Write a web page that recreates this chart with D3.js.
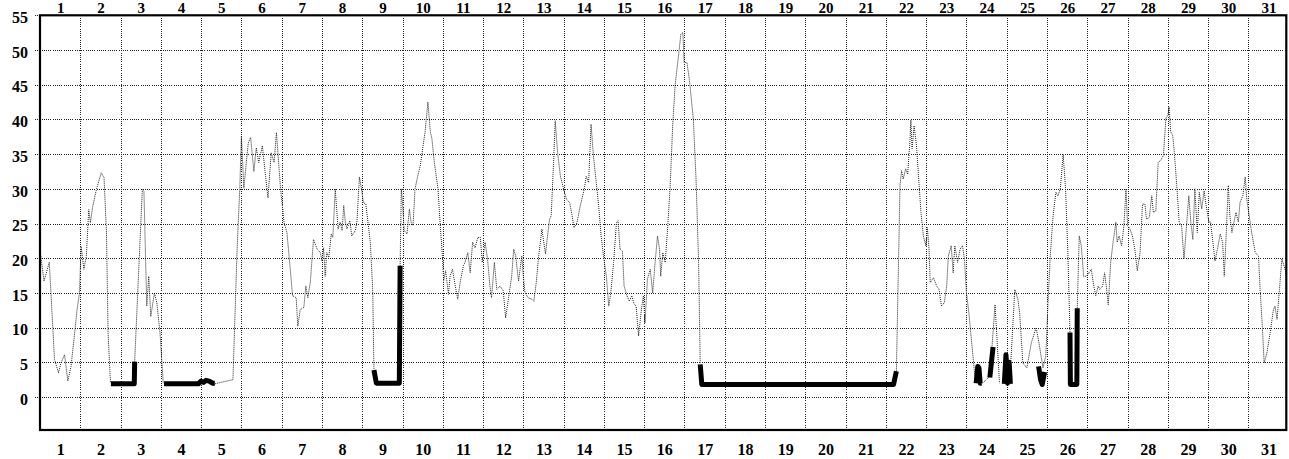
<!DOCTYPE html>
<html>
<head>
<meta charset="utf-8">
<script src="https://cdn.jsdelivr.net/npm/d3@7"></script>
<style>
  html, body { margin: 0; padding: 0; background: #fff; }
  svg { display: block; }
</style>
</head>
<body>
<div id="chart"></div>
<script>
// day-of-month labels and value ticks
const days = [1, 2, 3, 4, 5, 6, 7, 8, 9, 10, 11, 12, 13, 14, 15, 16,
  17, 18, 19, 20, 21, 22, 23, 24, 25, 26, 27, 28, 29, 30, 31];
const yTicks = [0, 5, 10, 15, 20, 25, 30, 35, 40, 45, 50, 55];

// thin dotted trace: [days since the 1st 00:00, value], null = gap
const thinTrace = [
  [0, 21.2], [0.1, 16.7], [0.23, 19.4], [0.27, 15.2], [0.36, 5.4], [0.46, 3.5], [0.52, 4.9],
  [0.61, 6.1], [0.69, 2.3], [0.77, 4.4], [0.86, 9.2], [0.92, 12.6], [0.98, 15], [1.02, 21.7],
  [1.09, 18.4], [1.15, 20.3], [1.21, 27], [1.25, 25.1], [1.31, 27.5], [1.4, 29.9], [1.52, 32.3],
  [1.59, 31.6], [1.65, 23.7], [1.69, 9.2], [1.75, 2],
  [1.8, null],
  [2.35, 5.1], [2.54, 29.9], [2.58, 29.7], [2.65, 13.1], [2.7, 17.4], [2.75, 11.6], [2.84, 15],
  [2.9, 13.6], [2.98, 9.2], [3.06, 2],
  [3.5, null],
  [4.34, 1.9], [4.48, 2.1], [4.79, 2.5], [4.89, 20.8], [4.96, 30.1], [5.0, 37.6], [5.06, 30.1],
  [5.17, 36.6], [5.23, 37.4], [5.31, 32.5], [5.37, 35.9], [5.43, 33.8], [5.52, 36.2], [5.6, 31.8],
  [5.66, 28.7], [5.74, 35.2], [5.81, 33.8], [5.87, 38.1], [5.97, 30.1], [6.06, 25.1], [6.13, 23.7],
  [6.19, 19.9], [6.27, 14.6], [6.36, 14.3], [6.4, 10.2], [6.46, 12.6], [6.55, 12.9], [6.6, 16],
  [6.65, 14.3], [6.71, 16.5], [6.79, 22.7], [6.88, 21.3], [6.96, 20.8], [7.0, 19.6], [7.04, 21.5],
  [7.08, 17.4], [7.12, 20.8], [7.17, 20.1], [7.23, 23.5], [7.27, 23], [7.33, 30], [7.4, 24.2],
  [7.45, 25.2], [7.5, 24], [7.54, 27.6], [7.58, 25.2], [7.62, 24.2], [7.69, 25.4], [7.74, 23.2],
  [7.83, 24], [7.87, 25.4], [7.93, 31.7], [7.98, 30], [8.03, 28], [8.09, 27.8], [8.2, 22.3],
  [8.26, 15.5], [8.29, 4],
  [8.6, null],
  [8.94, 18.9], [8.97, 30], [9.0, 28], [9.04, 24], [9.11, 23.5], [9.17, 27.1], [9.21, 25.2],
  [9.26, 24.7], [9.31, 30], [9.38, 31.9], [9.44, 33.3], [9.5, 35.8], [9.56, 38.2], [9.63, 42.5],
  [9.69, 38.2], [9.73, 37.2], [9.79, 33.8], [9.88, 30], [9.93, 25.2], [9.99, 20.3], [10.02, 16.7],
  [10.07, 18.2], [10.14, 14.8], [10.18, 17.4], [10.24, 18.4], [10.31, 16], [10.37, 14.1],
  [10.43, 16.5], [10.51, 18.9], [10.55, 19.4], [10.62, 20.8], [10.68, 17.9], [10.74, 22.3],
  [10.8, 21.5], [10.87, 23], [10.93, 23], [10.98, 19.4], [11.05, 22.3], [11.11, 19.9], [11.17, 16],
  [11.21, 14.3], [11.28, 19.4], [11.34, 15.5], [11.42, 16], [11.5, 15.3], [11.56, 11.4],
  [11.64, 14.6], [11.71, 17.4], [11.76, 21.3], [11.81, 20.3], [11.88, 16.7], [11.96, 20.3],
  [12.0, 17.4], [12.04, 15], [12.12, 14.3], [12.21, 14.1], [12.26, 13.8], [12.32, 16.5],
  [12.38, 20.3], [12.46, 24.2], [12.55, 20.6], [12.6, 23.2], [12.65, 25.6], [12.69, 26.1],
  [12.75, 33.8], [12.79, 39.8], [12.85, 35.2], [12.92, 31.8], [12.96, 30.9], [13.0, 29.9],
  [13.07, 28.5], [13.15, 28], [13.21, 26.1], [13.26, 24.4], [13.33, 25.1], [13.41, 27.5],
  [13.51, 29.9], [13.56, 31.8], [13.62, 30.9], [13.68, 39.3], [13.74, 34.7], [13.81, 30.9],
  [13.87, 27.5], [13.93, 23.2], [13.99, 20.3], [14.06, 17.4], [14.12, 13.1], [14.17, 15],
  [14.24, 19.4], [14.31, 25.1], [14.35, 25.4], [14.4, 21.3], [14.46, 21], [14.5, 16],
  [14.57, 14.6], [14.63, 13.8], [14.69, 14.6], [14.75, 13.4], [14.8, 13.1], [14.86, 8.8],
  [14.93, 12.6], [14.98, 14.6], [15.02, 10.7], [15.08, 17], [15.15, 18.4], [15.21, 15],
  [15.27, 19.4], [15.33, 23.2], [15.38, 21.3], [15.41, 17.4], [15.46, 20.8], [15.52, 19.4],
  [15.58, 24.2], [15.64, 29.9], [15.71, 39.5], [15.77, 45.1], [15.85, 49.1], [15.91, 52.3],
  [15.96, 52.5], [15.99, 48.2], [16.06, 48.2], [16.12, 45.8], [16.22, 40], [16.29, 30.9],
  [16.35, 19.4], [16.39, 4.9],
  [18.0, null],
  [21.26, 3.7], [21.35, 30.5], [21.39, 32.6], [21.43, 31.4], [21.49, 32.9], [21.54, 32.1],
  [21.6, 37.2], [21.62, 39.9], [21.65, 35.8], [21.7, 39.1], [21.76, 36.2], [21.82, 30.9],
  [21.87, 26.6], [21.93, 23.2], [21.99, 21.8], [22.03, 24.4], [22.07, 21.3], [22.1, 16.5],
  [22.18, 17.2], [22.26, 16], [22.32, 15.5], [22.38, 13.1], [22.45, 13.6], [22.51, 16],
  [22.55, 20.3], [22.62, 21.8], [22.67, 17.9], [22.71, 21.8], [22.78, 19.4], [22.84, 21.3],
  [22.9, 21.8], [22.95, 19.9], [23.0, 15], [23.06, 12.1], [23.13, 7.8], [23.22, 2.3],
  [23.3, null],
  [23.4, 2], [23.58, 3], [23.71, 13.3], [23.82, 2],
  [23.95, null],
  [24.1, 4.9], [24.2, 15.5], [24.28, 14], [24.32, 12.1], [24.4, 4.9], [24.5, 4.2], [24.61, 7.8],
  [24.73, 10], [24.8, 7.8], [24.9, 4.2], [24.97, 5.9], [25.02, 13.1], [25.08, 20.3],
  [25.15, 26.1], [25.22, 29.5], [25.27, 29], [25.33, 30], [25.4, 35], [25.46, 30], [25.52, 20.3],
  [25.57, 9.3],
  [25.65, null],
  [25.75, 12.8], [25.8, 23.2], [25.85, 21.8], [25.91, 17.4], [25.98, 17.4], [26.04, 17.9],
  [26.1, 18.4], [26.16, 16], [26.21, 14.6], [26.27, 16], [26.31, 15.5], [26.38, 16], [26.43, 17.9],
  [26.49, 15], [26.52, 13.3], [26.58, 19.4], [26.64, 22.3], [26.71, 25.2], [26.74, 22.3],
  [26.79, 23.2], [26.85, 21.8], [26.91, 24.7], [26.96, 30], [27.0, 24.7], [27.06, 24.2],
  [27.12, 23.2], [27.18, 21.3], [27.24, 18.2], [27.31, 20.8], [27.37, 27.8], [27.43, 27.8],
  [27.47, 25.6], [27.54, 25.9], [27.6, 29], [27.64, 26.6], [27.7, 26.8], [27.76, 33.8],
  [27.82, 34.1], [27.89, 34.8], [27.95, 40.1], [28.0, 40.6], [28.03, 41.8], [28.07, 38.2],
  [28.12, 37.7], [28.15, 36], [28.22, 30.5], [28.28, 25.2], [28.34, 24.7], [28.4, 19.9],
  [28.47, 25.2], [28.52, 29], [28.57, 25.2], [28.62, 22.7], [28.67, 30], [28.73, 23.7],
  [28.78, 29.5], [28.84, 27.1], [28.9, 29.7], [28.95, 27.6], [29.02, 25.2], [29.06, 25.2],
  [29.11, 22.7], [29.17, 19.6], [29.23, 21.3], [29.3, 23.5], [29.36, 22.3], [29.4, 17.4],
  [29.45, 23.7], [29.5, 30.5], [29.54, 26.1], [29.59, 23.7], [29.64, 25.2], [29.69, 26.6],
  [29.75, 25.2], [29.79, 28], [29.86, 29], [29.92, 31.7], [29.96, 28.5], [30.02, 26.1],
  [30.08, 23.7], [30.17, 20.8], [30.25, 20.3], [30.29, 15.5], [30.34, 10.7], [30.39, 4.9],
  [30.46, 6.4], [30.54, 9.3], [30.62, 12.6], [30.66, 13.1], [30.71, 11.2], [30.77, 15.5],
  [30.83, 19.9], [30.92, 18.2], [30.95, 17]
];

// thick solid trace (the low readings), null = gap
const thickTrace = [
  [1.76, 1.9], [2.34, 1.9], [2.35, 5.1],
  [2.8, null],
  [3.08, 1.9], [3.93, 1.9], [4.0, 2.3], [4.06, 2.1], [4.12, 2.4], [4.2, 2.3], [4.28, 2.0], [4.34, 2.0],
  [6.0, null],
  [8.29, 3.9], [8.35, 2.0], [8.92, 2.0], [8.94, 18.9],
  [12.0, null],
  [16.39, 4.7], [16.43, 1.8], [21.19, 1.8], [21.26, 3.7],
  [22.0, null],
  [23.24, 2.0], [23.28, 4.4], [23.31, 4.2], [23.34, 2.0], [23.38, 2.0],
  [23.5, null],
  [23.58, 2.8], [23.66, 7.2],
  [23.8, null],
  [23.94, 1.9], [23.98, 6.1], [24.02, 2.0], [24.06, 5.0], [24.09, 1.9],
  [24.5, null],
  [24.79, 4.4], [24.84, 2.5], [24.88, 1.8], [24.94, 3.6],
  [25.2, null],
  [25.57, 9.3], [25.58, 1.8], [25.74, 1.8], [25.75, 12.8]
];

function drawChart() {
  const width = 1289;
  const height = 459;
  const plotLeft = 40;
  const plotRight = 1286.3;
  const plotTop = 15.3;
  const plotBottom = 430;

  const x = d3.scaleLinear().domain([0, 30.94]).range([plotLeft, plotRight]);
  const y = d3.scaleLinear().domain([-4.75, 55]).range([plotBottom, plotTop]);

  const svg = d3.select("#chart")
    .append("svg")
    .attr("width", width)
    .attr("height", height)
    .attr("viewBox", [0, 0, width, height]);

  svg.append("rect")
    .attr("width", width)
    .attr("height", height)
    .attr("fill", "#fff");

  // dotted grid
  const grid = svg.append("g")
    .attr("stroke", "#222")
    .attr("stroke-width", 1)
    .attr("stroke-dasharray", "1,1.2")
    .attr("shape-rendering", "crispEdges");

  grid.selectAll("line.h")
    .data(yTicks)
    .join("line")
    .attr("class", "h")
    .attr("x1", plotLeft - 5)
    .attr("x2", plotRight)
    .attr("y1", function(d) { return Math.round(y(d)) + 0.5; })
    .attr("y2", function(d) { return Math.round(y(d)) + 0.5; });

  grid.selectAll("line.v")
    .data(days.slice(1))
    .join("line")
    .attr("class", "v")
    .attr("x1", function(d) { return Math.round(x(d - 1)) + 0.5; })
    .attr("x2", function(d) { return Math.round(x(d - 1)) + 0.5; })
    .attr("y1", plotTop)
    .attr("y2", plotBottom);

  const line = d3.line()
    .defined(function(d) { return d[1] !== null; })
    .x(function(d) { return x(d[0]); })
    .y(function(d) { return y(d[1]); });

  svg.append("path")
    .datum(thinTrace)
    .attr("fill", "none")
    .attr("stroke", "#222")
    .attr("stroke-width", 1)
    .attr("stroke-dasharray", "1,1")
    .attr("d", line);

  svg.append("path")
    .datum(thickTrace)
    .attr("fill", "none")
    .attr("stroke", "#000")
    .attr("stroke-width", 5)
    .attr("stroke-linejoin", "round")
    .attr("d", line);

  // frame
  svg.append("rect")
    .attr("x", plotLeft)
    .attr("y", plotTop)
    .attr("width", plotRight - plotLeft)
    .attr("height", plotBottom - plotTop)
    .attr("fill", "none")
    .attr("stroke", "#000")
    .attr("stroke-width", 2.2);

  const dayCenters = days.map(function(d) { return d - 0.5; });
  const dayFormat = function(v) { return Math.round(v + 0.5); };

  function styleAxis(size) {
    return function(g) {
      g.select(".domain").remove();
      g.selectAll(".tick line").remove();
      g.selectAll("text")
        .attr("font-family", "'Liberation Serif', 'Times New Roman', serif")
        .attr("font-weight", "bold")
        .attr("font-size", size)
        .attr("fill", "#000");
    };
  }

  svg.append("g")
    .attr("transform", "translate(0," + plotTop + ")")
    .call(d3.axisTop(x).tickValues(dayCenters).tickFormat(dayFormat).tickSize(0).tickPadding(1.9))
    .call(styleAxis(15));

  svg.append("g")
    .attr("transform", "translate(0," + plotBottom + ")")
    .call(d3.axisBottom(x).tickValues(dayCenters).tickFormat(dayFormat).tickSize(0).tickPadding(13.6))
    .call(styleAxis(16));

  svg.append("g")
    .attr("transform", "translate(" + plotLeft + ",0)")
    .call(d3.axisLeft(y).tickValues(yTicks).tickSize(0).tickPadding(12))
    .call(styleAxis(16))
    .selectAll("text")
    .attr("dy", "0.45em");
}

if (document.readyState === "loading") {
  document.addEventListener("DOMContentLoaded", drawChart);
} else {
  drawChart();
}
</script>
</body>
</html>
